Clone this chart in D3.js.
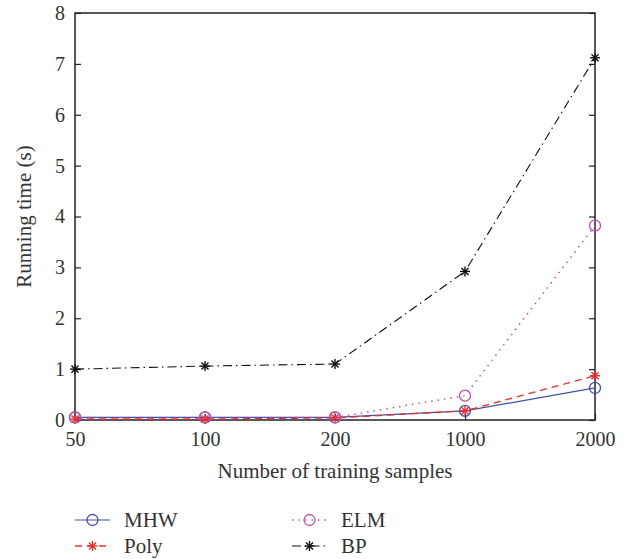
<!DOCTYPE html>
<html>
<head>
<meta charset="utf-8">
<script src="https://cdn.jsdelivr.net/npm/d3@7/dist/d3.min.js"></script>
<style>
  body { margin: 0; background: #fff; }
</style>
</head>
<body>
<div class="chart"></div>
<script>
// data
const samples = ['50', '100', '200', '1000', '2000']
const mhw  = [0.05, 0.05, 0.05, 0.18, 0.63]
const poly = [0.02, 0.02, 0.04, 0.18, 0.87]
const elm  = [0.05, 0.05, 0.05, 0.48, 3.82]
const bp   = [1.00, 1.06, 1.10, 2.92, 7.12]
const yTicks = [0, 1, 2, 3, 4, 5, 6, 7, 8]

const FONT = '"Liberation Serif", "DejaVu Serif", "Times New Roman", serif'
const INK = '#333'

const margin = {top: 13, right: 32, bottom: 139, left: 75}
const width = 627 - margin.left - margin.right
const height = 559 - margin.top - margin.bottom

const svg = d3.select('.chart')
  .append('svg')
    .attr('width', 627)
    .attr('height', 559)
  .append('g')
    .attr('transform', `translate(${margin.left}, ${margin.top})`)

const x = d3.scalePoint().domain(samples).range([0, width])
const y = d3.scaleLinear().domain([0, 8]).range([height, 0])

const series = [
  {name: 'MHW',  values: mhw,  color: '#3f51a8', dash: null,        marker: 'circle', width: 1.2},
  {name: 'Poly', values: poly, color: '#ee2b2b', dash: '7,5',       marker: 'star',   width: 1.3},
  {name: 'ELM',  values: elm,  color: '#c050b0', dash: '1.5,5',     marker: 'circle', width: 1.5},
  {name: 'BP',   values: bp,   color: '#111',    dash: '9,4,1.5,4', marker: 'star',   width: 1.1}
]

// axes box
svg.append('rect')
  .attr('width', width).attr('height', height)
  .attr('fill', 'none').attr('stroke', '#222').attr('stroke-width', 1.5)

const yAxis = svg.append('g')
  .call(d3.axisLeft(y).tickValues(yTicks).tickSize(-6).tickPadding(10).tickFormat(d3.format('d')))
yAxis.select('.domain').remove()
yAxis.selectAll('text').style('font-size', '20px').style('font-family', FONT).attr('fill', INK)
yAxis.selectAll('line').attr('stroke', '#222').attr('stroke-width', 1.2)

svg.append('g')
  .attr('transform', `translate(${width}, 0)`)
  .call(d3.axisRight(y).tickValues(yTicks).tickSize(-6).tickFormat(''))
  .call(g => g.select('.domain').remove())
  .selectAll('line').attr('stroke', '#222').attr('stroke-width', 1.2)

const xAxis = svg.append('g')
  .attr('transform', `translate(0, ${height})`)
  .call(d3.axisBottom(x).tickSize(-6).tickPadding(12))
xAxis.select('.domain').remove()
xAxis.selectAll('text').style('font-size', '20px').style('font-family', FONT).attr('fill', INK)
xAxis.selectAll('line').attr('stroke', '#222').attr('stroke-width', 1.2)

svg.append('text')
  .attr('x', width / 2).attr('y', height + 58)
  .attr('text-anchor', 'middle')
  .style('font-size', '21px').style('font-family', FONT).attr('fill', INK)
  .text('Number of training samples')

svg.append('text')
  .attr('transform', `translate(${-44}, ${height / 2}) rotate(-90)`)
  .attr('text-anchor', 'middle')
  .style('font-size', '21px').style('font-family', FONT).attr('fill', INK)
  .text('Running time (s)')

function drawMarker(g, type, cx, cy, color) {
  if (type === 'circle') {
    g.append('circle')
      .attr('cx', cx).attr('cy', cy).attr('r', 5.5)
      .attr('fill', 'none').attr('stroke', color).attr('stroke-width', 1.3)
  } else {
    const r = 5
    for (let a = 0; a < 4; a++) {
      const ang = a * Math.PI / 4
      g.append('line')
        .attr('x1', cx - r * Math.cos(ang)).attr('y1', cy - r * Math.sin(ang))
        .attr('x2', cx + r * Math.cos(ang)).attr('y2', cy + r * Math.sin(ang))
        .attr('stroke', color).attr('stroke-width', 1.4)
    }
  }
}

const line = d3.line()
  .x((d, i) => x(samples[i]))
  .y(d => y(d))

series.forEach(s => {
  const g = svg.append('g')
  g.append('path')
    .attr('d', line(s.values))
    .attr('fill', 'none')
    .attr('stroke', s.color)
    .attr('stroke-width', s.width)
    .attr('stroke-dasharray', s.dash)
  s.values.forEach((v, i) => drawMarker(g, s.marker, x(samples[i]), y(v), s.color))
})

// legend
const legend = d3.select('svg').append('g')
series.forEach((s, i) => {
  const lx = i < 2 ? 75 : 292
  const ly = 520 + (i % 2) * 26
  const g = legend.append('g')
  g.append('line')
    .attr('x1', lx).attr('x2', lx + 35).attr('y1', ly).attr('y2', ly)
    .attr('stroke', s.color).attr('stroke-width', s.width)
    .attr('stroke-dasharray', s.dash)
  drawMarker(g, s.marker, lx + 17.5, ly, s.color)
  g.append('text')
    .attr('x', lx + 49).attr('y', ly + 7)
    .style('font-size', '21px').style('font-family', FONT).attr('fill', INK)
    .text(s.name)
})
</script>
</body>
</html>
